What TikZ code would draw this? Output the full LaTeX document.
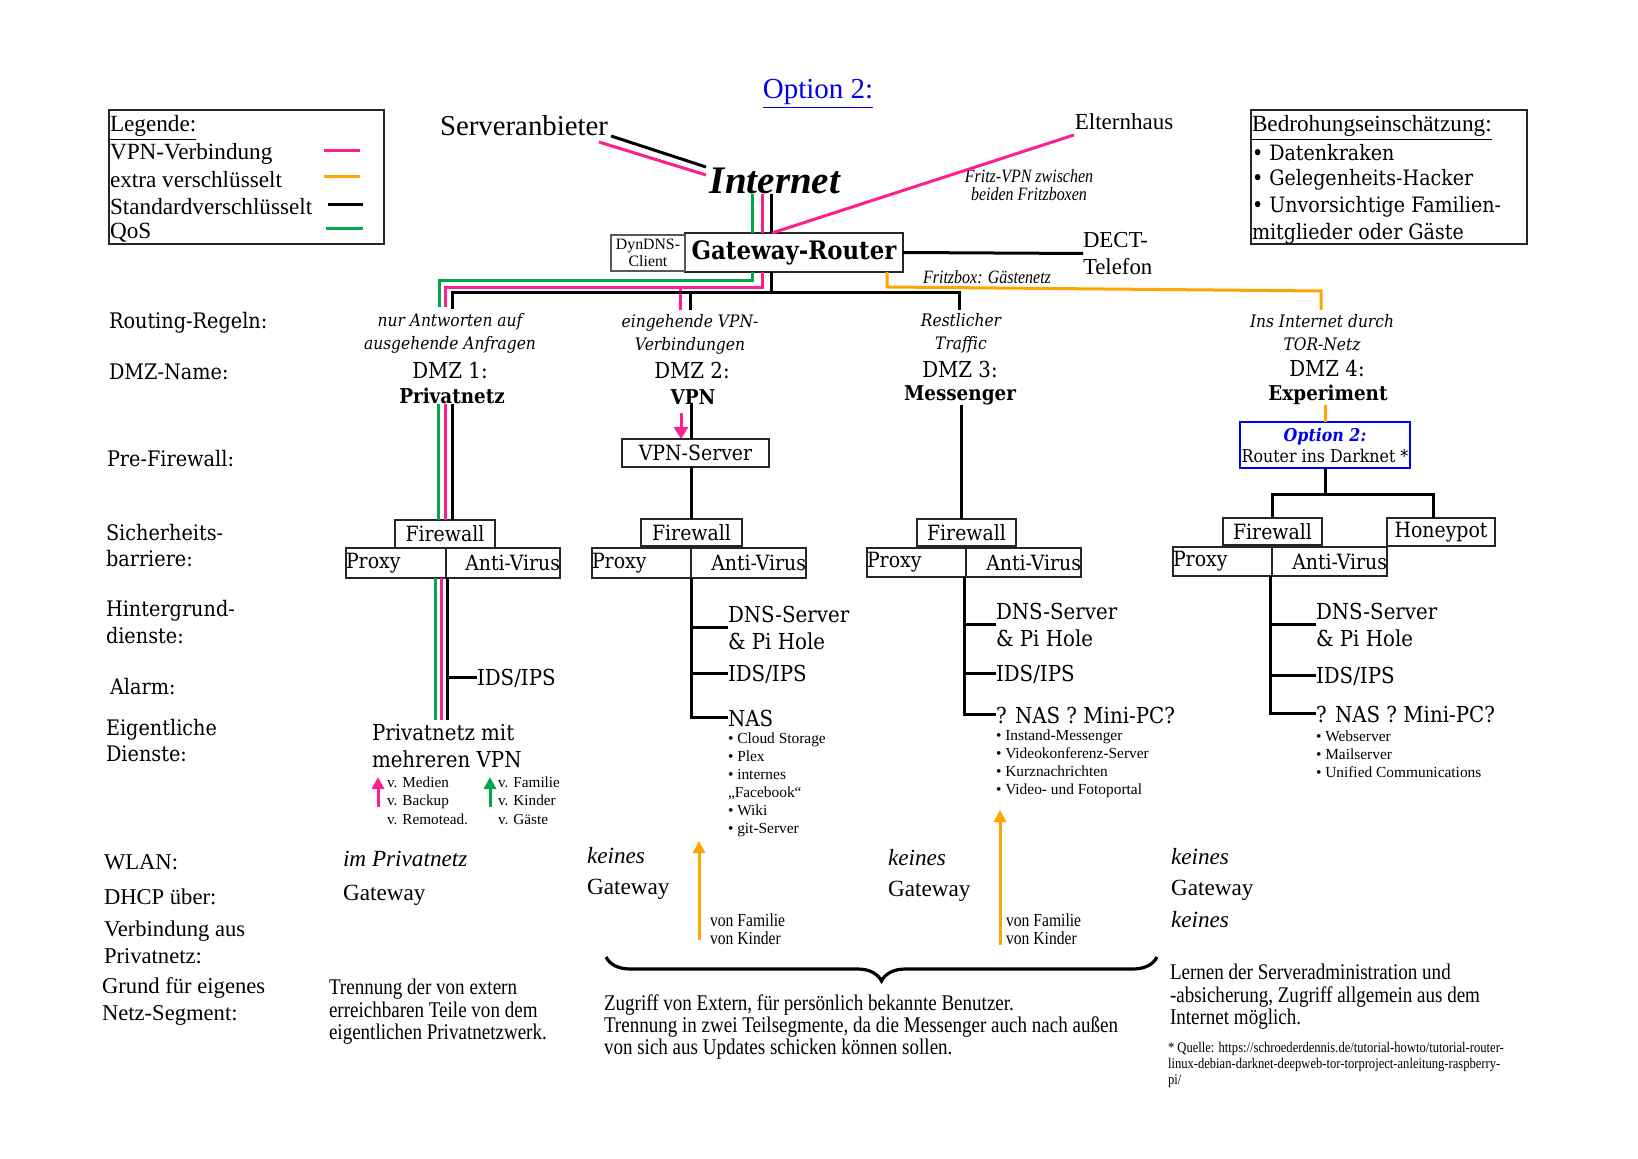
\documentclass[tikz,border=0pt]{standalone}
\usepackage{fontspec}
\setmainfont[FakeStretch=0.9]{DejaVu Serif}
\newfontfamily\lib{Liberation Serif}
\newfontfamily\nar[FakeStretch=0.85]{Liberation Serif}
\usetikzlibrary{decorations.pathreplacing,arrows.meta}
\definecolor{pinkc}{RGB}{255,30,145}
\definecolor{orangec}{RGB}{255,165,0}
\definecolor{greenc}{RGB}{0,168,72}
\definecolor{bluec}{RGB}{0,0,238}
\newcommand{\fz}[2]{\fontsize{#1}{#2}\selectfont}
\newcommand{\bx}[7]{%
 \pgfmathsetmacro\bxcx{(#2+#4)/2}%
 \pgfmathsetmacro\bxcy{(#3+#5)/2}%
 \pgfmathsetmacro\bxw{(#4-#2)/2}%
 \pgfmathsetmacro\bxh{(#5-#3)/2}%
 \node[box,minimum width=\bxw pt,minimum height=\bxh pt,#6] (#1) at (\bxcx,\bxcy) {#7};}
\tikzset{
 txt/.style={inner sep=0pt,outer sep=0pt},
 box/.style={draw=black!85,line width=0.7pt,inner sep=0pt,outer sep=0pt},
 pk/.style={pinkc,line width=1.5pt},
 bk/.style={black,line width=1.5pt},
 gn/.style={greenc,line width=1.5pt},
 og/.style={orangec,line width=1.5pt},
 lbl/.style={txt,anchor=west,align=left,font=\fz{10.7}{13.4}},
 lblb/.style={txt,anchor=west,align=left,font=\lib\fz{11.3}{13.5}},
 route/.style={txt,align=center,font=\itshape\fz{8.6}{11.5}},
 dmz/.style={txt,font=\fz{11}{13}},
 dmzb/.style={txt,font=\bfseries\fz{10.2}{13}},
 svc/.style={txt,anchor=west,align=left,font=\fz{11}{13.5}},
 bul/.style={txt,anchor=west,align=left,font=\lib\fz{7.7}{9}},
 boxt/.style={box,font=\fz{10.5}{12}},
 wl/.style={txt,anchor=west,font=\lib\fz{11.6}{14}},
 para/.style={txt,anchor=west,align=left,font=\nar\fz{11.2}{11.2}},
 smallnar/.style={txt,anchor=west,align=left,font=\nar\fz{9.2}{9}},
 legt/.style={txt,anchor=west,font=\lib\fz{11.6}{14}},
 thrt/.style={txt,anchor=west,font=\fz{10.6}{13}},
 tipa/.style={-{Triangle[width=6pt,length=6pt]}},
}
\begin{document}
\begin{tikzpicture}[x=0.5pt,y=-0.5pt]
\useasboundingbox (0,0) rectangle (1638,1159);

% title
\node[txt,font=\lib\fz{14.5}{17},text=bluec] (title) at (818,94) {\underline{Option 2:}};

% legend
\bx{leg}{109}{110}{384}{244}{}{}
\node[legt] (lg0) at (110,128) {\underline{Legende:}};
\node[legt] (lg1) at (110,154) {VPN-Verbindung};
\node[legt] (lg2) at (110,180) {extra verschlüsselt};
\node[legt] (lg3) at (110,207) {Standardverschlüsselt};
\node[legt] (lg4) at (110,233) {QoS};
\draw[pk] (324,151) -- (360,151);
\draw[og] (324,177) -- (360,177);
\draw[bk] (328,205) -- (363,205);
\draw[gn] (326,229) -- (363,229);

% threat box
\bx{thr}{1251}{110}{1527}{244}{}{}
\node[legt] (th0) at (1252,128) {\underline{Bedrohungseinschätzung:}};
\node[thrt] (th1) at (1252,153) {• Datenkraken};
\node[thrt] (th2) at (1252,180) {• Gelegenheits-Hacker};
\node[thrt] (th3) at (1252,207) {• Unvorsichtige Familien-};
\node[thrt] (th4) at (1252,234) {mitglieder oder Gäste};

% top
\node[txt,font=\lib\fz{14.4}{17}] (srv) at (524,126) {Serveranbieter};
\node[txt,font=\lib\bfseries\itshape\fz{19.5}{22}] (inet) at (775,181) {Internet};
\node[txt,font=\lib\fz{11.5}{13}] (eh) at (1124,122) {Elternhaus};
\node[txt,align=center,font=\nar\itshape\fz{9.4}{9}] (fvpn) at (1029,185) {Fritz-VPN zwischen\\beiden Fritzboxen};
\bx{gw}{685}{233}{903}{272}{font=\bfseries\fz{12.7}{14}}{Gateway-Router}
\bx{dyn}{611}{235}{685}{271}{draw=black!65,align=center,font=\lib\fz{7.9}{8.6}}{DynDNS-\\Client}
\node[txt,anchor=west,align=left,font=\lib\fz{11.4}{13.5}] (dect) at (1083,253.5) {DECT-\\Telefon};
\node[txt,font=\nar\itshape\fz{9.4}{11}] (fbg) at (987,277) {Fritzbox: Gästenetz};

\coordinate (sv1) at (611,136); \coordinate (sv2) at (599,142);
\coordinate (in1) at (706,167); \coordinate (in2) at (706,175);
\draw[bk] (sv1) -- (in1);
\draw[pk] (sv2) -- (in2);
\coordinate (xg0) at (752,0); \coordinate (xp0) at (762,0); \coordinate (xb0) at (771,0); \coordinate (xo0) at (887,0);
\draw[gn] (xg0 |- inet.south) -- (xg0 |- gw.north);
\draw[pk] (xp0 |- inet.south) -- (xp0 |- gw.north);
\draw[bk] (xb0 |- inet.south) -- (xb0 |- gw.north);
\coordinate (ehc) at (1074,135);
\draw[pk] (772,233) -- (ehc);
\draw[bk] (gw.east) -- (dect.west);

% router to DMZs
\coordinate (hg) at (0,281); \coordinate (hpk) at (0,288); \coordinate (hbk) at (0,293);
\coordinate (r1g) at (439,307); \coordinate (r1p) at (445,307); \coordinate (r1b) at (452,309);
\coordinate (r2p) at (680,310); \coordinate (r2b) at (690,310); \coordinate (r3b) at (959,310);
\draw[gn] (xg0 |- gw.south) -- (xg0 |- hg) -| (r1g);
\draw[pk] (xp0 |- gw.south) -- (xp0 |- hpk) -| (r1p);
\draw[pk] (r2p |- hpk) -- (r2p);
\draw[bk] (xb0 |- gw.south) -- (xb0 |- hbk) -| (r1b);
\draw[bk] (xb0 |- hbk) -| (r3b);
\draw[bk] (r2b |- hbk) -- (r2b);
\coordinate (o1) at (887,287); \coordinate (o2) at (1321,291); \coordinate (o3) at (1321,310);
\draw[og] (xo0 |- gw.south) -- (o1) -- (o2) -- (o3);

% left labels
\node[lbl] (L1) at (109,323) {Routing-Regeln:};
\node[lbl] (L2) at (109,372) {DMZ-Name:};
\node[lbl] (L3) at (107,459) {Pre-Firewall:};
\node[lbl] (L4) at (106,545.5) {Sicherheits-\\barriere:};
\node[lbl] (L5) at (106,622) {Hintergrund-\\dienste:};
\node[lbl] (L6) at (110,687) {Alarm:};
\node[lbl] (L7) at (106,740.5) {Eigentliche\\Dienste:};
\node[lblb] (L8) at (104,862) {WLAN:};
\node[lblb] (L9) at (104,897) {DHCP über:};
\node[lblb] (L10) at (104,942) {Verbindung aus\\Privatnetz:};
\node[lblb] (L11) at (102,1001) {Grund für eigenes\\Netz-Segment:};

% ===== DMZ 1
\node[route] (rt1) at (450,333.5) {nur Antworten auf\\ausgehende Anfragen};
\node[dmz] (d1) at (450,370) {DMZ 1:};
\node[dmzb] (n1) at (452,396) {Privatnetz};
\bx{fw1}{395}{520}{495}{548}{boxt}{Firewall}
\bx{px1}{346}{548}{446}{578}{boxt}{\makebox[\bxw pt][l]{Proxy}}
\bx{av1}{446}{548}{560}{578}{boxt}{\makebox[\bxw pt][r]{Anti-Virus}}
\coordinate (c1g) at (438,0); \coordinate (c1p) at (445,0); \coordinate (c1b) at (452,0);
\draw[gn] (c1g |- n1.south) -- (c1g |- fw1.north);
\draw[pk] (c1p |- n1.south) -- (c1p |- fw1.north);
\draw[bk] (c1b |- n1.south) -- (c1b |- fw1.north);
\node[svc] (ids1) at (477,678) {IDS/IPS};
\coordinate (e1) at (0,720);
\coordinate (d1g) at (435,0); \coordinate (d1p) at (441,0); \coordinate (d1b) at (447,0);
\draw[gn] (d1g |- px1.south) -- (d1g |- e1);
\draw[pk] (d1p |- px1.south) -- (d1p |- e1);
\draw[bk] (d1b |- px1.south) -- (d1b |- e1);
\draw[bk] (d1b |- ids1.west) -- (ids1.west);
\node[svc] (pn1) at (372,746.5) {Privatnetz mit\\mehreren VPN};
\node[txt,anchor=west,align=left,font=\lib\fz{7.6}{9.25}] (vm1) at (387,800.5) {v. Medien\\v. Backup\\v. Remotead.};
\node[txt,anchor=west,align=left,font=\lib\fz{7.6}{9.25}] (vf1) at (498,800.5) {v. Familie\\v. Kinder\\v. Gäste};
\coordinate (ap1) at (378,807); \coordinate (ap2) at (378,777);
\coordinate (ag1) at (490,807); \coordinate (ag2) at (490,777);
\draw[pk,tipa] (ap1) -- (ap2);
\draw[gn,tipa] (ag1) -- (ag2);
\node[txt,anchor=west,font=\lib\itshape\fz{11.6}{14}] (w1) at (343,859) {im Privatnetz};
\node[wl] (g1) at (343,895) {Gateway};
\node[para] (p1) at (329,1012) {Trennung der von extern\\erreichbaren Teile von dem\\eigentlichen Privatnetzwerk.};

% ===== DMZ 2
\node[route] (rt2) at (690,334) {eingehende VPN-\\Verbindungen};
\node[dmz] (d2) at (692,370) {DMZ 2:};
\node[dmzb] (n2) at (693,397) {VPN};
\bx{vs}{622}{439}{769}{467}{boxt}{VPN-Server}
\bx{fw2}{641}{519}{742}{546}{boxt}{Firewall}
\bx{px2}{592}{548}{691}{578}{boxt}{\makebox[\bxw pt][l]{Proxy}}
\bx{av2}{691}{548}{806}{578}{boxt}{\makebox[\bxw pt][r]{Anti-Virus}}
\coordinate (x2a) at (681,0); \coordinate (t2) at (691,0);
\coordinate (y413) at (0,413);
\draw[pk,-{Triangle[width=7pt,length=6pt]}] (x2a |- y413) -- (x2a |- vs.north);
\draw[bk] (t2 |- n2.south) -- (t2 |- vs.north);
\draw[bk] (t2 |- vs.south) -- (t2 |- fw2.north);
\node[svc] (dns2) at (728,627.5) {DNS-Server\\\& Pi Hole};
\node[svc] (ids2) at (728,674) {IDS/IPS};
\node[svc] (nas2) at (728,718) {NAS};
\draw[bk] (t2 |- av2.south) -- (t2 |- nas2.west) -- (nas2.west);
\draw[bk] (t2 |- dns2.west) -- (dns2.west);
\draw[bk] (t2 |- ids2.west) -- (ids2.west);
\node[bul] (b2) at (728,785) {• Cloud Storage\\• Plex\\• internes\\„Facebook“\\• Wiki\\• git-Server};
\coordinate (a2s) at (699,940); \coordinate (a2e) at (699,841);
\draw[og,tipa] (a2s) -- (a2e);
\node[smallnar] (vk2) at (710,929) {von Familie\\von Kinder};
\node[wl,font=\lib\itshape\fz{11.6}{14}] (w2) at (587,856) {keines};
\node[wl] (g2) at (587,889) {Gateway};

% ===== DMZ 3
\node[route] (rt3) at (961,333) {Restlicher\\Traffic};
\node[dmz] (d3) at (960,369) {DMZ 3:};
\node[dmzb] (n3) at (960,395) {Messenger};
\bx{fw3}{917}{519}{1016}{546}{boxt}{Firewall}
\bx{px3}{867}{548}{966}{577}{boxt}{\makebox[\bxw pt][l]{Proxy}}
\bx{av3}{966}{548}{1081}{577}{boxt}{\makebox[\bxw pt][r]{Anti-Virus}}
\coordinate (x3) at (961,0); \coordinate (t3) at (964,0);
\draw[bk] (x3 |- n3.south) -- (x3 |- fw3.north);
\node[svc] (dns3) at (996,625) {DNS-Server\\\& Pi Hole};
\node[svc] (ids3) at (996,674) {IDS/IPS};
\node[svc] (nas3) at (996,715) {? NAS ? Mini-PC?};
\draw[bk] (t3 |- av3.south) -- (t3 |- nas3.west) -- (nas3.west);
\draw[bk] (t3 |- dns3.west) -- (dns3.west);
\draw[bk] (t3 |- ids3.west) -- (ids3.west);
\node[bul] (b3) at (996,764) {• Instand-Messenger\\• Videokonferenz-Server\\• Kurznachrichten\\• Video- und Fotoportal};
\coordinate (a3s) at (1000,945); \coordinate (a3e) at (1000,810);
\draw[og,tipa] (a3s) -- (a3e);
\node[smallnar] (vk3) at (1006,929) {von Familie\\von Kinder};
\node[wl,font=\lib\itshape\fz{11.6}{14}] (w3) at (888,858) {keines};
\node[wl] (g3) at (888,891) {Gateway};

% ===== DMZ 4
\node[route] (rt4) at (1322,333) {Ins Internet durch\\TOR-Netz};
\node[dmz] (d4) at (1327,368) {DMZ 4:};
\node[dmzb] (n4) at (1328,395) {Experiment};
\bx{opt}{1240}{422}{1410}{468}{draw=bluec,align=center,font=\fz{8.8}{10.5}}{{\color{bluec}\bfseries\itshape Option 2:}\\Router ins Darknet *}
\bx{fw4}{1223}{518}{1322}{545}{boxt}{Firewall}
\bx{hpot}{1387}{518}{1495}{546}{boxt}{Honeypot}
\bx{px4}{1173}{547}{1272}{576}{boxt}{\makebox[\bxw pt][l]{Proxy}}
\bx{av4}{1272}{547}{1387}{576}{boxt}{\makebox[\bxw pt][r]{Anti-Virus}}
\coordinate (x4) at (1325,0); \coordinate (y495) at (0,495); \coordinate (xh) at (1433,0);
\draw[og] (x4 |- n4.south) -- (x4 |- opt.north);
\draw[bk] (opt.south) -- (opt.south |- y495);
\draw[bk] (fw4.north) -- (fw4.north |- y495) -- (xh |- y495) -- (xh |- hpot.north);
\coordinate (t4) at (1270,0);
\node[svc] (dns4) at (1316,624.5) {DNS-Server\\\& Pi Hole};
\node[svc] (ids4) at (1316,676) {IDS/IPS};
\node[svc] (nas4) at (1316,714) {? NAS ? Mini-PC?};
\draw[bk] (t4 |- av4.south) -- (t4 |- nas4.west) -- (nas4.west);
\draw[bk] (t4 |- dns4.west) -- (dns4.west);
\draw[bk] (t4 |- ids4.west) -- (ids4.west);
\node[bul] (b4) at (1316,754) {• Webserver\\• Mailserver\\• Unified Communications};
\node[wl,font=\lib\itshape\fz{11.6}{14}] (w4) at (1171,857) {keines};
\node[wl] (g4) at (1171,890) {Gateway};
\node[wl,font=\lib\itshape\fz{11.6}{14}] (k4) at (1171,920) {keines};

% bottom
\coordinate (br1) at (606,957); \coordinate (br2) at (1157,957);
\draw[decorate,decoration={brace,mirror,amplitude=12pt},line width=1.6pt] (br1) -- (br2);
\node[para] (p2) at (604,1027) {Zugriff von Extern, für persönlich bekannte Benutzer.\\Trennung in zwei Teilsegmente, da die Messenger auch nach außen\\von sich aus Updates schicken können sollen.};
\node[para] (p3) at (1170,997) {Lernen der Serveradministration und\\-absicherung, Zugriff allgemein aus dem\\Internet möglich.};
\node[txt,anchor=west,align=left,font=\nar\fz{7.4}{8}] (q) at (1168,1065) {* Quelle: https://schroederdennis.de/tutorial-howto/tutorial-router-\\linux-debian-darknet-deepweb-tor-torproject-anleitung-raspberry-\\pi/};
\end{tikzpicture}
\end{document}
